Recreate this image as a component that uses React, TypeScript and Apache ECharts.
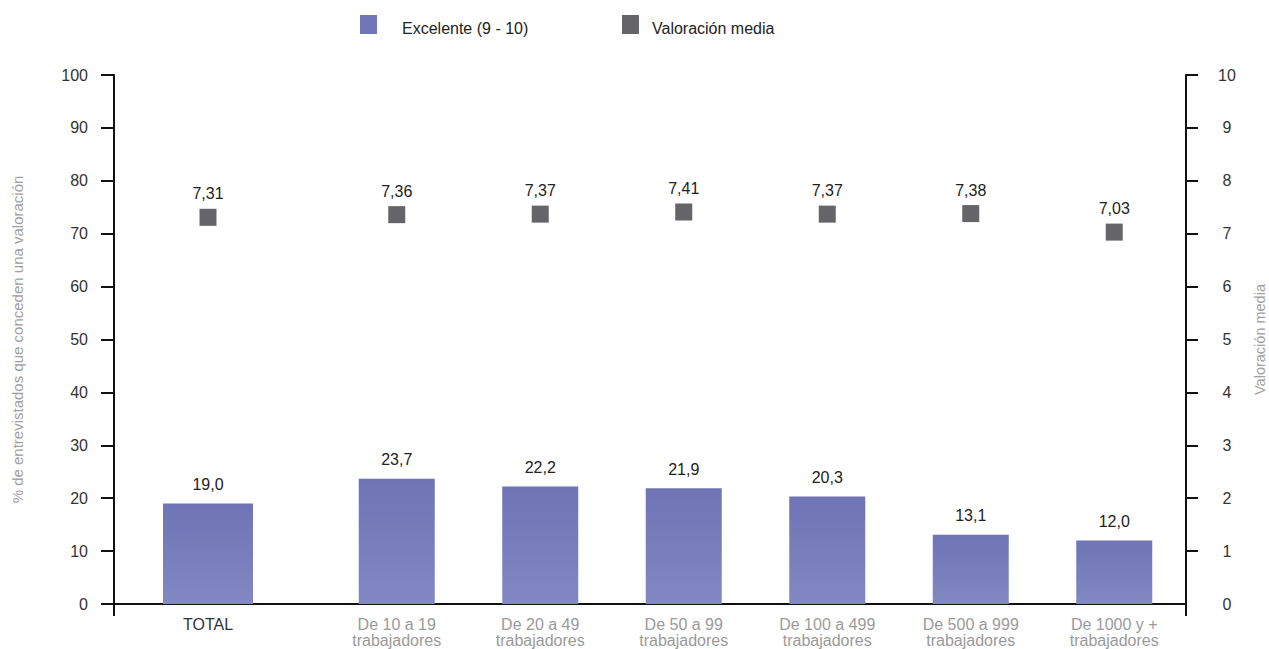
import React, { useEffect, useRef } from "react";
import * as echarts from "echarts";

const categories = [
  "TOTAL",
  "De 10 a 19\ntrabajadores",
  "De 20 a 49\ntrabajadores",
  "De 50 a 99\ntrabajadores",
  "De 100 a 499\ntrabajadores",
  "De 500 a 999\ntrabajadores",
  "De 1000 y +\ntrabajadores",
];
const excelente = [19.0, 23.7, 22.2, 21.9, 20.3, 13.1, 12.0];
const valoracion = [7.31, 7.36, 7.37, 7.41, 7.37, 7.38, 7.03];
const leftTicks = { min: 0, max: 100, interval: 10 };
const rightTicks = { min: 0, max: 10, interval: 1 };
const rightTickValues = [1, 2, 3, 4, 5, 6, 7, 8, 9, 10];

const BAR_NAME = "Excelente (9 - 10)";
const MARK_NAME = "Valoración media";
const FONT = "'Liberation Sans', Arial, sans-serif";

export default function App() {
  const ref = useRef<HTMLDivElement>(null);
  useEffect(() => {
    if (!ref.current) return;
    const chart = echarts.init(ref.current, undefined, { renderer: "svg" });
    const barColor = new echarts.graphic.LinearGradient(0, 0, 0, 1, [
      { offset: 0, color: "#6e74b5" },
      { offset: 1, color: "#8288c2" },
    ]);
    const left = 114;
    const top = 75;
    const width = 1072;
    const height = 529;
    const hiddenY = (gridIndex: number, t: any) => ({
      type: "value",
      gridIndex,
      ...t,
      show: false,
      splitLine: { show: false },
    });
    const catAxis = (gridIndex: number, data: string[], color: string) => ({
      type: "category",
      gridIndex,
      data,
      axisLine: { show: false },
      axisTick: { show: false },
      axisLabel: {
        color,
        fontSize: 16,
        fontFamily: FONT,
        margin: 12,
        lineHeight: 16,
        interval: 0,
      },
    });
    const barLabel = {
      show: true,
      position: "top",
      distance: 11,
      color: "#222",
      fontSize: 16,
      fontFamily: FONT,
      formatter: (p: any) => Number(p.value).toFixed(1).replace(".", ","),
    };
    const markLabel = {
      show: true,
      position: "top",
      distance: 7,
      color: "#222",
      opacity: 1,
      fontSize: 16,
      fontFamily: FONT,
      formatter: (p: any) => Number(p.value).toFixed(2).replace(".", ","),
    };
    const legendBase = {
      top: 15,
      padding: 0,
      itemWidth: 17,
      itemHeight: 27,
      icon: "path://M0,0h17v19h-17z M0,27",
    };
    const gridBase = { top, height, containLabel: false, outerBoundsMode: "none" };
    const option: any = {
      animation: false,
      backgroundColor: "#fff",
      textStyle: { fontFamily: FONT },
      legend: [
        {
          ...legendBase,
          data: [{ name: BAR_NAME, itemStyle: { color: "#7076b8" } }],
          left: 360,
          textStyle: { fontSize: 16, color: "#222", fontFamily: FONT, padding: [0, 0, 0, 20] },
        },
        {
          ...legendBase,
          data: [{ name: MARK_NAME, itemStyle: { color: "#646469" } }],
          left: 622,
          textStyle: { fontSize: 16, color: "#222", fontFamily: FONT, padding: [0, 0, 0, 8] },
        },
      ],
      grid: [
        { ...gridBase, left, width },
        { ...gridBase, left, width: 188 },
        { ...gridBase, left: 325, width: 861 },
      ],
      graphic: [
        {
          type: "line",
          shape: { x1: left, y1: top + height, x2: left, y2: top + height + 12 },
          style: { stroke: "#111", lineWidth: 2 },
        },
        {
          type: "line",
          shape: { x1: left + width, y1: top + height, x2: left + width, y2: top + height + 12 },
          style: { stroke: "#111", lineWidth: 2 },
        },
      ],
      xAxis: [
        {
          type: "value",
          gridIndex: 0,
          min: 0,
          max: 1,
          axisLine: { show: true, lineStyle: { color: "#111", width: 2 } },
          axisTick: { show: false },
          axisLabel: { show: false },
          splitLine: { show: false },
        },
        catAxis(1, categories.slice(0, 1), "#333"),
        catAxis(2, categories.slice(1), "#9a9a9a"),
      ],
      yAxis: [
        {
          type: "value",
          gridIndex: 0,
          position: "left",
          ...leftTicks,
          name: "% de entrevistados que conceden una valoración",
          nameLocation: "middle",
          nameGap: 89,
          nameTextStyle: { color: "#a0a0a0", fontSize: 15, fontFamily: FONT },
          axisLine: { show: true, lineStyle: { color: "#111", width: 2 } },
          axisTick: { show: true, length: 13, lineStyle: { color: "#111", width: 2 } },
          axisLabel: { color: "#333", fontSize: 16, fontFamily: FONT, margin: 26 },
          splitLine: { show: false },
        },
        {
          type: "value",
          gridIndex: 0,
          position: "right",
          ...rightTicks,
          name: MARK_NAME,
          nameLocation: "middle",
          nameGap: 66,
          nameTextStyle: { color: "#a0a0a0", fontSize: 14.5, fontFamily: FONT },
          axisLine: { show: true, lineStyle: { color: "#111", width: 2 } },
          axisTick: {
            show: true,
            length: 12,
            customValues: rightTickValues,
            lineStyle: { color: "#111", width: 2 },
          },
          axisLabel: { color: "#333", fontSize: 16, fontFamily: FONT, margin: 41, align: "center" },
          splitLine: { show: false },
        },
        hiddenY(1, leftTicks),
        hiddenY(1, rightTicks),
        hiddenY(2, leftTicks),
        hiddenY(2, rightTicks),
      ],
      series: [
        {
          name: BAR_NAME,
          type: "bar",
          xAxisIndex: 1,
          yAxisIndex: 2,
          barWidth: 90,
          data: excelente.slice(0, 1),
          itemStyle: { color: barColor },
          label: barLabel,
        },
        {
          name: BAR_NAME,
          type: "bar",
          xAxisIndex: 2,
          yAxisIndex: 4,
          barWidth: 76,
          data: excelente.slice(1),
          itemStyle: { color: barColor },
          label: barLabel,
        },
        {
          name: MARK_NAME,
          type: "scatter",
          xAxisIndex: 1,
          yAxisIndex: 3,
          symbol: "rect",
          symbolSize: 17,
          data: valoracion.slice(0, 1),
          itemStyle: { color: "#646469", opacity: 1 },
          label: markLabel,
          z: 5,
        },
        {
          name: MARK_NAME,
          type: "scatter",
          xAxisIndex: 2,
          yAxisIndex: 5,
          symbol: "rect",
          symbolSize: 17,
          data: valoracion.slice(1),
          itemStyle: { color: "#646469", opacity: 1 },
          label: markLabel,
          z: 5,
        },
      ],
    };
    chart.setOption(option);
    return () => chart.dispose();
  }, []);
  return (
    <div
      ref={ref}
      style={{ position: "absolute", left: 0, top: 0, width: 1269, height: 649, background: "#fff" }}
    />
  );
}
